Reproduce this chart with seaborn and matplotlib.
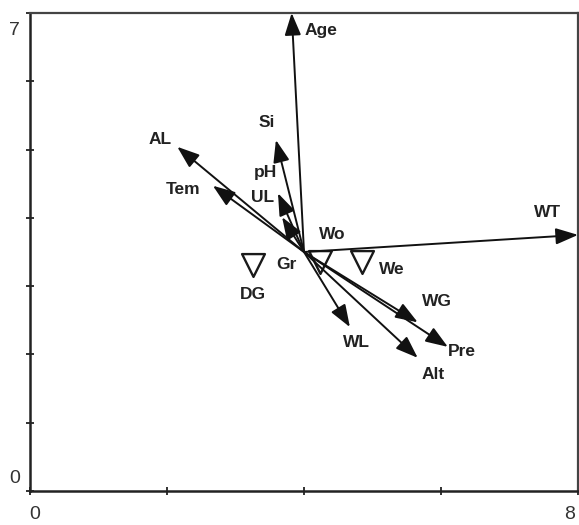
import matplotlib
matplotlib.use("Agg")
import matplotlib.pyplot as plt
import seaborn as sns
import pandas as pd

# ---- data ----
origin_x, origin_y = 4.0, 3.5
var_names = ["Age", "WT", "AL", "Tem", "Si", "pH", "UL", "WG", "Pre", "Alt", "WL"]
var_x = [3.82, 8.0, 2.15, 2.67, 3.59, 3.62, 3.68, 5.66, 6.10, 5.66, 4.67]
var_y = [7.0, 3.75, 5.04, 4.47, 5.14, 4.36, 4.01, 2.47, 2.11, 1.95, 2.40]
var_label_x = [4.25, 7.56, 1.90, 2.23, 3.46, 3.43, 3.40, 5.94, 6.31, 5.88, 4.77]
var_label_y = [6.74, 4.08, 5.14, 4.41, 5.39, 4.66, 4.30, 2.77, 2.04, 1.71, 2.17]

site_names = ["DG", "Gr", "We"]
site_x = [3.26, 4.23, 4.85]
site_y = [3.31, 3.35, 3.35]
site_label_names = ["DG", "Gr", "Wo", "We"]
site_label_x = [3.26, 3.75, 4.41, 5.28]
site_label_y = [2.87, 3.31, 3.75, 3.24]

x_ticks = [0, 2, 4, 6, 8]
y_ticks = [0, 1, 2, 3, 4, 5, 6, 7]

sns.set_theme(style="white")
plt.rcParams["font.family"] = ["Liberation Sans", "DejaVu Sans"]

fig = plt.figure(figsize=(5.79, 5.25), dpi=100)
ax = fig.add_axes([0.0518, 0.0648, 0.9465, 0.9105])

sites = pd.DataFrame({"site": site_names, "x": site_x, "y": site_y})
sns.scatterplot(data=sites, x="x", y="y", marker="v", s=270, facecolor="white",
                edgecolor="#1a1a1a", linewidth=1.7, ax=ax, zorder=3)

for name, tx, ty, lx, ly in zip(var_names, var_x, var_y, var_label_x, var_label_y):
    ax.annotate("", xy=(tx, ty), xytext=(origin_x, origin_y),
                arrowprops=dict(arrowstyle="-|>,head_length=0.68,head_width=0.25",
                                mutation_scale=20, color="#111111", lw=1.4,
                                shrinkA=0, shrinkB=0),
                annotation_clip=False, zorder=4)
    ax.text(lx, ly, name, ha="center", va="center", fontsize=12.5,
            fontweight="bold", color="#222222")

for name, lx, ly in zip(site_label_names, site_label_x, site_label_y):
    ax.text(lx, ly, name, ha="center", va="center", fontsize=12.5,
            fontweight="bold", color="#222222")

ax.set_xlim(0, 8)
ax.set_ylim(0, 7)
ax.set_xticks(x_ticks)
ax.set_yticks(y_ticks)
ax.set_xticklabels([])
ax.set_yticklabels([])
ax.tick_params(axis="both", direction="inout", length=6, width=1.3, color="#222222",
               bottom=True, left=True)
ax.set_xlabel("")
ax.set_ylabel("")
for side in ["left", "bottom"]:
    ax.spines[side].set_color("#222222")
    ax.spines[side].set_linewidth(1.8)
for side in ["top", "right"]:
    ax.spines[side].set_color("#444444")
    ax.spines[side].set_linewidth(1.6)

# endpoint tick labels (inset like the reference)
lab_kw = dict(ha="center", va="center", fontsize=14, color="#333333", clip_on=False)
ax.text(-0.22, 6.75, "7", **lab_kw)
ax.text(-0.22, 0.19, "0", **lab_kw)
ax.text(0.07, -0.35, "0", **lab_kw)
ax.text(7.88, -0.35, "8", **lab_kw)

fig.savefig("out.png", dpi=100)
